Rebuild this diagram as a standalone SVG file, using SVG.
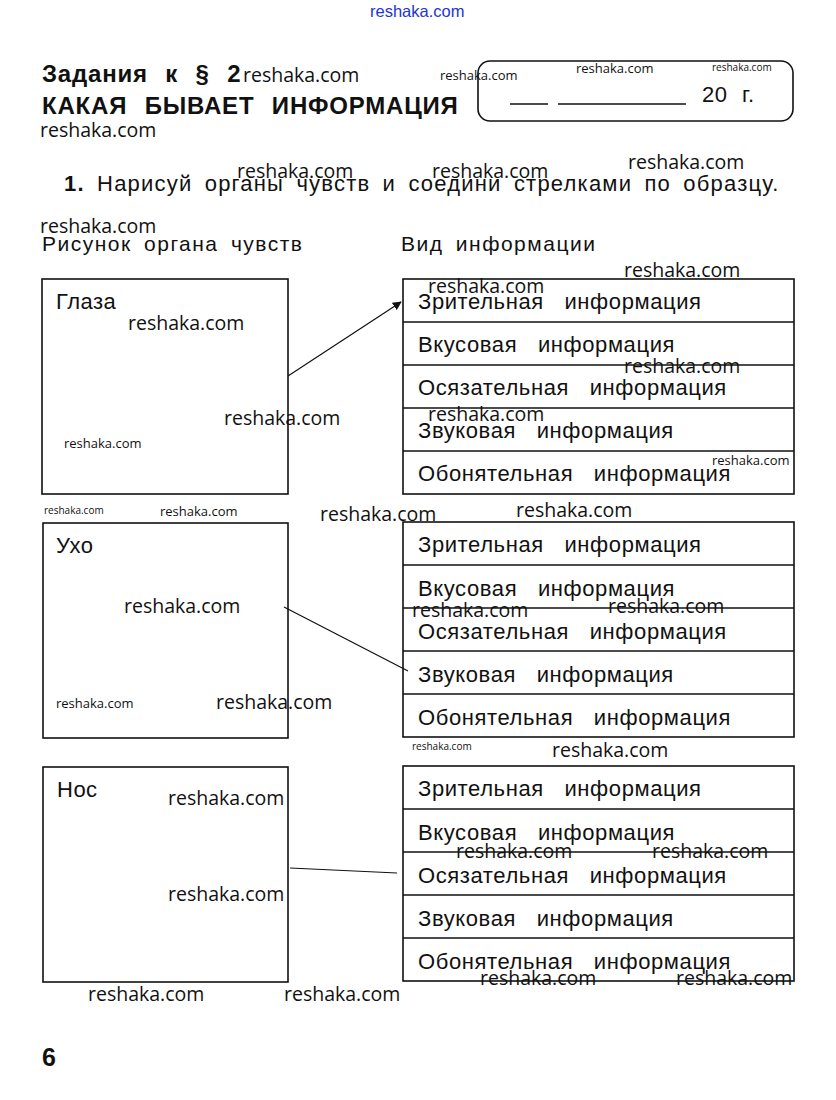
<svg xmlns="http://www.w3.org/2000/svg" width="836" height="1100" viewBox="0 0 836 1100">
<style>
.t{font-family:"Liberation Sans",Arial,sans-serif;fill:#111;}
.h{font-family:"Liberation Sans",Arial,sans-serif;font-weight:bold;font-size:24px;fill:#111;word-spacing:10px;letter-spacing:0.8px;}
.r{font-family:"Liberation Sans",Arial,sans-serif;font-size:22px;fill:#111;word-spacing:14px;letter-spacing:0.6px;}
.lb{font-family:"Liberation Sans",Arial,sans-serif;font-size:22px;fill:#111;letter-spacing:0.5px;}
.col{font-family:"Liberation Sans",Arial,sans-serif;font-size:21px;fill:#111;word-spacing:5px;letter-spacing:1.5px;}
.w{font-family:"Open Sans",sans-serif;font-size:19.5px;fill:#111;}
.ws{font-family:"Open Sans",sans-serif;font-size:13px;fill:#111;}
.wt{font-family:"Open Sans",sans-serif;font-size:10px;fill:#111;}
.box{fill:none;stroke:#111;stroke-width:1.6;}
.row{fill:none;stroke:#111;stroke-width:1.4;}
.con{fill:none;stroke:#111;stroke-width:1.2;}
</style>
<defs>
<marker id="ah" viewBox="0 0 10 10" refX="9" refY="5" markerWidth="9" markerHeight="9" orient="auto" markerUnits="userSpaceOnUse">
<path d="M0,0 L10,5 L0,10 z" fill="#111"/>
</marker>
</defs>
<rect width="836" height="1100" fill="#fff"/>

<text x="370" y="17" style="font-family:'Liberation Sans Narrow','Liberation Sans',sans-serif;font-size:16.5px;fill:#2233dd;">reshaka.com</text>

<g id="header">
<text x="42" y="82" class="h">Задания к § 2</text>
<text x="42" y="114" class="h">КАКАЯ БЫВАЕТ ИНФОРМАЦИЯ</text>
<rect x="478" y="61" width="315" height="60" rx="12" class="box"/>
<line x1="510" y1="104" x2="548" y2="104" stroke="#111" stroke-width="1.6"/>
<line x1="558" y1="104" x2="686" y2="104" stroke="#111" stroke-width="1.6"/>
<text x="702" y="102" class="lb" style="word-spacing:8px;">20 г.</text>
</g>

<g id="task">
<text x="64" y="191" class="t" style="font-size:22px;word-spacing:5px;letter-spacing:1.2px;"><tspan font-weight="bold">1.</tspan> Нарисуй органы чувств и соедини стрелками по образцу.</text>
<text x="42" y="251" class="col">Рисунок органа чувств</text>
<text x="401" y="251" class="col">Вид информации</text>
</g>

<g id="organ-eyes">
<rect x="42" y="279" width="246" height="215" class="box"/>
<text x="56" y="309" class="lb">Глаза</text>
</g>
<g id="organ-ear">
<rect x="43" y="523" width="245" height="215" class="box"/>
<text x="56" y="553" class="lb">Ухо</text>
</g>
<g id="organ-nose">
<rect x="43" y="767" width="245" height="215" class="box"/>
<text x="57" y="797" class="lb">Нос</text>
</g>

<g id="info-table-1">
<rect x="403" y="279" width="391" height="215" class="box"/>
<line x1="403" y1="322" x2="794" y2="322" class="row"/>
<line x1="403" y1="365" x2="794" y2="365" class="row"/>
<line x1="403" y1="408" x2="794" y2="408" class="row"/>
<line x1="403" y1="451" x2="794" y2="451" class="row"/>
<text x="418" y="309" class="r">Зрительная информация</text>
<text x="418" y="352" class="r">Вкусовая информация</text>
<text x="418" y="395" class="r">Осязательная информация</text>
<text x="418" y="438" class="r">Звуковая информация</text>
<text x="418" y="481" class="r">Обонятельная информация</text>
</g>
<g id="info-table-2">
<rect x="403" y="522" width="391" height="215" class="box"/>
<line x1="403" y1="565" x2="794" y2="565" class="row"/>
<line x1="403" y1="608" x2="794" y2="608" class="row"/>
<line x1="403" y1="651" x2="794" y2="651" class="row"/>
<line x1="403" y1="694" x2="794" y2="694" class="row"/>
<text x="418" y="552" class="r">Зрительная информация</text>
<text x="418" y="596" class="r">Вкусовая информация</text>
<text x="418" y="639" class="r">Осязательная информация</text>
<text x="418" y="682" class="r">Звуковая информация</text>
<text x="418" y="725" class="r">Обонятельная информация</text>
</g>
<g id="info-table-3">
<rect x="403" y="766" width="391" height="215" class="box"/>
<line x1="403" y1="809" x2="794" y2="809" class="row"/>
<line x1="403" y1="852" x2="794" y2="852" class="row"/>
<line x1="403" y1="895" x2="794" y2="895" class="row"/>
<line x1="403" y1="938" x2="794" y2="938" class="row"/>
<text x="418" y="796" class="r">Зрительная информация</text>
<text x="418" y="840" class="r">Вкусовая информация</text>
<text x="418" y="883" class="r">Осязательная информация</text>
<text x="418" y="926" class="r">Звуковая информация</text>
<text x="418" y="969" class="r">Обонятельная информация</text>
</g>

<g id="connectors">
<line x1="288" y1="376" x2="401" y2="302" class="con" marker-end="url(#ah)"/>
<line x1="284" y1="607" x2="408" y2="671" class="con"/>
<line x1="290" y1="868" x2="397" y2="873" class="con"/>
</g>

<text x="42" y="1066" class="t" style="font-size:25px;font-weight:bold;">6</text>

<g id="watermarks">
<text x="243" y="82" class="w">reshaka.com</text>
<text x="440" y="80" class="ws">reshaka.com</text>
<text x="576" y="73" class="ws">reshaka.com</text>
<text x="712" y="71" class="wt">reshaka.com</text>
<text x="40" y="137" class="w">reshaka.com</text>
<text x="237" y="178" class="w">reshaka.com</text>
<text x="432" y="178" class="w">reshaka.com</text>
<text x="628" y="169" class="w">reshaka.com</text>
<text x="40" y="233" class="w">reshaka.com</text>
<text x="624" y="277" class="w">reshaka.com</text>
<text x="428" y="293" class="w">reshaka.com</text>
<text x="128" y="330" class="w">reshaka.com</text>
<text x="624" y="373" class="w">reshaka.com</text>
<text x="224" y="425" class="w">reshaka.com</text>
<text x="428" y="421" class="w">reshaka.com</text>
<text x="64" y="448" class="ws">reshaka.com</text>
<text x="712" y="465" class="ws">reshaka.com</text>
<text x="44" y="514" class="wt">reshaka.com</text>
<text x="160" y="516" class="ws">reshaka.com</text>
<text x="320" y="521" class="w">reshaka.com</text>
<text x="516" y="517" class="w">reshaka.com</text>
<text x="124" y="613" class="w">reshaka.com</text>
<text x="412" y="617" class="w">reshaka.com</text>
<text x="608" y="613" class="w">reshaka.com</text>
<text x="56" y="708" class="ws">reshaka.com</text>
<text x="216" y="709" class="w">reshaka.com</text>
<text x="412" y="750" class="wt">reshaka.com</text>
<text x="552" y="757" class="w">reshaka.com</text>
<text x="168" y="805" class="w">reshaka.com</text>
<text x="456" y="858" class="w">reshaka.com</text>
<text x="652" y="858" class="w">reshaka.com</text>
<text x="168" y="901" class="w">reshaka.com</text>
<text x="480" y="985" class="w">reshaka.com</text>
<text x="676" y="985" class="w">reshaka.com</text>
<text x="88" y="1001" class="w">reshaka.com</text>
<text x="284" y="1001" class="w">reshaka.com</text>
</g>
</svg>
